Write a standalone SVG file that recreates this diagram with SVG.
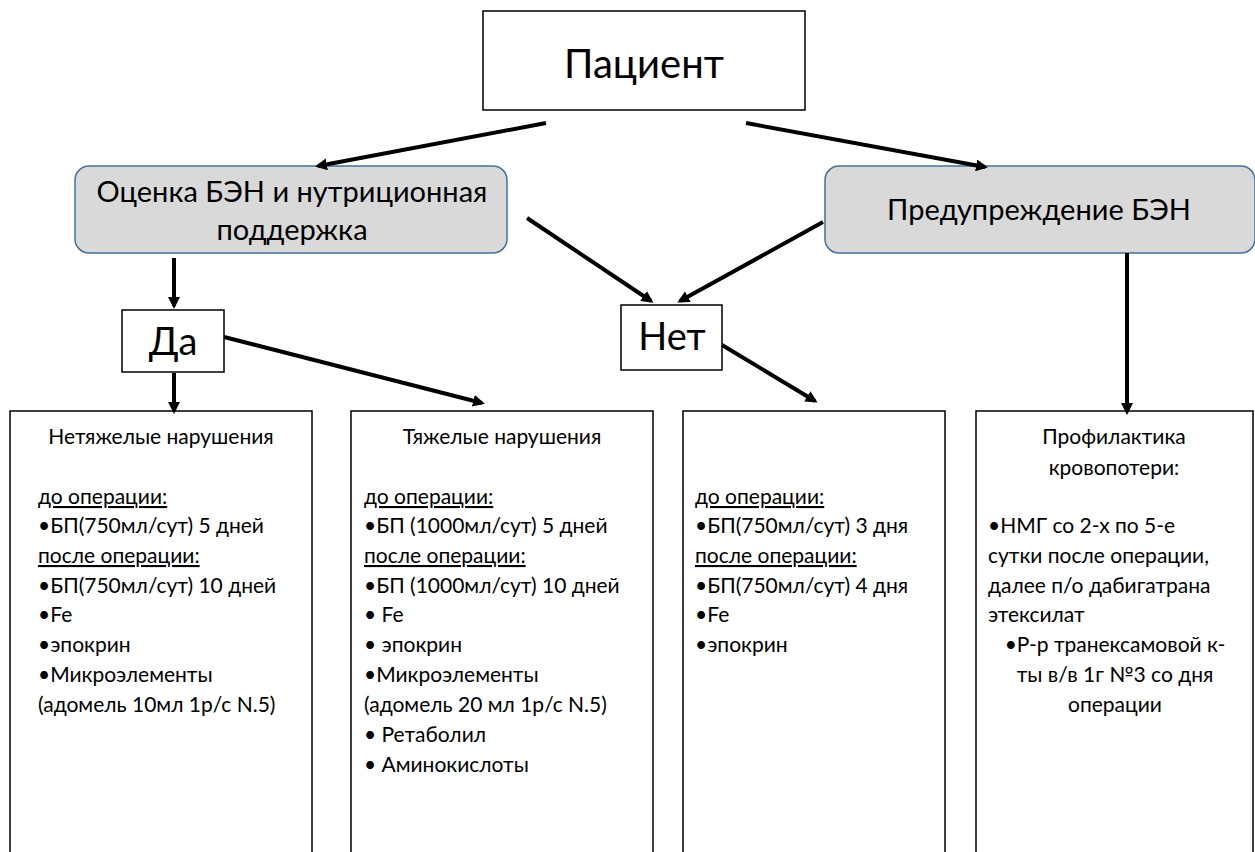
<svg xmlns="http://www.w3.org/2000/svg" width="1255" height="852" viewBox="0 0 1255 852">
<defs>
<marker id="ah" markerWidth="12" markerHeight="12" refX="9" refY="6" orient="auto" markerUnits="userSpaceOnUse" viewBox="0 0 12 12">
<path d="M0,0 L12,6 L0,12 z" fill="#000"/>
</marker>
<style>
.box{fill:#fff;stroke:#000;stroke-width:1.5}
.rbox{fill:#d9d9d9;stroke:#41719c;stroke-width:1.5}
.t{font-family:Lato,"Open Sans","Liberation Sans",sans-serif;fill:#000}
.s{font-size:21px}
.c{text-anchor:middle}
.u{text-decoration:underline}
.ar{stroke:#000;stroke-width:4;fill:none;marker-end:url(#ah)}
</style>
</defs>
<rect width="1255" height="852" fill="#fff"/>
<g id="patient">
<rect class="box" x="483" y="11" width="322" height="99"/>
<text class="t c" x="644" y="78" font-size="40">Пациент</text>
</g>
<g id="assess">
<rect class="rbox" x="75" y="166" width="432" height="87" rx="14"/>
<text class="t c" x="292" y="202" font-size="29">Оценка БЭН и нутриционная</text>
<text class="t c" x="292" y="240" font-size="29">поддержка</text>
</g>
<g id="prevent">
<rect class="rbox" x="825" y="166" width="430" height="87" rx="14"/>
<text class="t c" x="1039" y="220" font-size="29">Предупреждение БЭН</text>
</g>
<g id="yes">
<rect class="box" x="122" y="310" width="102" height="62"/>
<text class="t c" x="173" y="355" font-size="38">Да</text>
</g>
<g id="no">
<rect class="box" x="621" y="305" width="101" height="65"/>
<text class="t c" x="672" y="350" font-size="38">Нет</text>
</g>
<g id="mild">
<rect class="box" x="10" y="411" width="302" height="450"/>
<text class="t s c" x="161" y="444">Нетяжелые нарушения</text>
<text class="t s u" x="38" y="504">до операции:</text>
<text class="t s" x="38" y="533">•БП(750мл/сут) 5 дней</text>
<text class="t s u" x="38" y="563">после операции:</text>
<text class="t s" x="38" y="593">•БП(750мл/сут) 10 дней</text>
<text class="t s" x="38" y="622">•Fe</text>
<text class="t s" x="38" y="652">•эпокрин</text>
<text class="t s" x="38" y="682">•Микроэлементы</text>
<text class="t s" x="38" y="712">(адомель 10мл 1р/с N.5)</text>
</g>
<g id="severe">
<rect class="box" x="351" y="411" width="302" height="450"/>
<text class="t s c" x="502" y="444">Тяжелые нарушения</text>
<text class="t s u" x="364" y="504">до операции:</text>
<text class="t s" x="364" y="533">•БП (1000мл/сут) 5 дней</text>
<text class="t s u" x="364" y="563">после операции:</text>
<text class="t s" x="364" y="593">•БП (1000мл/сут) 10 дней</text>
<text class="t s" x="364" y="622">• Fe</text>
<text class="t s" x="364" y="652">• эпокрин</text>
<text class="t s" x="364" y="682">•Микроэлементы</text>
<text class="t s" x="364" y="712">(адомель 20 мл 1р/с N.5)</text>
<text class="t s" x="364" y="742">• Ретаболил</text>
<text class="t s" x="364" y="772">• Аминокислоты</text>
</g>
<g id="nobox">
<rect class="box" x="683" y="411" width="262" height="450"/>
<text class="t s u" x="695" y="504">до операции:</text>
<text class="t s" x="695" y="533">•БП(750мл/сут) 3 дня</text>
<text class="t s u" x="695" y="563">после операции:</text>
<text class="t s" x="695" y="593">•БП(750мл/сут) 4 дня</text>
<text class="t s" x="695" y="622">•Fe</text>
<text class="t s" x="695" y="652">•эпокрин</text>
</g>
<g id="prophylaxis">
<rect class="box" x="976" y="411" width="277" height="450"/>
<text class="t s c" x="1114" y="444">Профилактика</text>
<text class="t s c" x="1114" y="475">кровопотери:</text>
<text class="t s" x="988" y="533">•НМГ со 2-х по 5-е</text>
<text class="t s" x="988" y="563">сутки после операции,</text>
<text class="t s" x="988" y="593">далее п/о дабигатрана</text>
<text class="t s" x="988" y="622">этексилат</text>
<text class="t s c" x="1115" y="652">•Р-р транексамовой к-</text>
<text class="t s c" x="1115" y="682">ты в/в 1г №3 со дня</text>
<text class="t s c" x="1115" y="712">операции</text>
</g>
<g id="connectors">
<line class="ar" x1="546" y1="123" x2="318" y2="166"/>
<line class="ar" x1="746" y1="123" x2="985" y2="167"/>
<line class="ar" x1="174" y1="258" x2="174" y2="306"/>
<line class="ar" x1="174" y1="373" x2="174" y2="411"/>
<line class="ar" x1="224" y1="337" x2="482" y2="403"/>
<line class="ar" x1="527" y1="218" x2="651" y2="301"/>
<line class="ar" x1="823" y1="222" x2="680" y2="301"/>
<line class="ar" x1="722" y1="345" x2="815" y2="401"/>
<line class="ar" x1="1127" y1="253" x2="1127" y2="412"/>
</g>
</svg>
